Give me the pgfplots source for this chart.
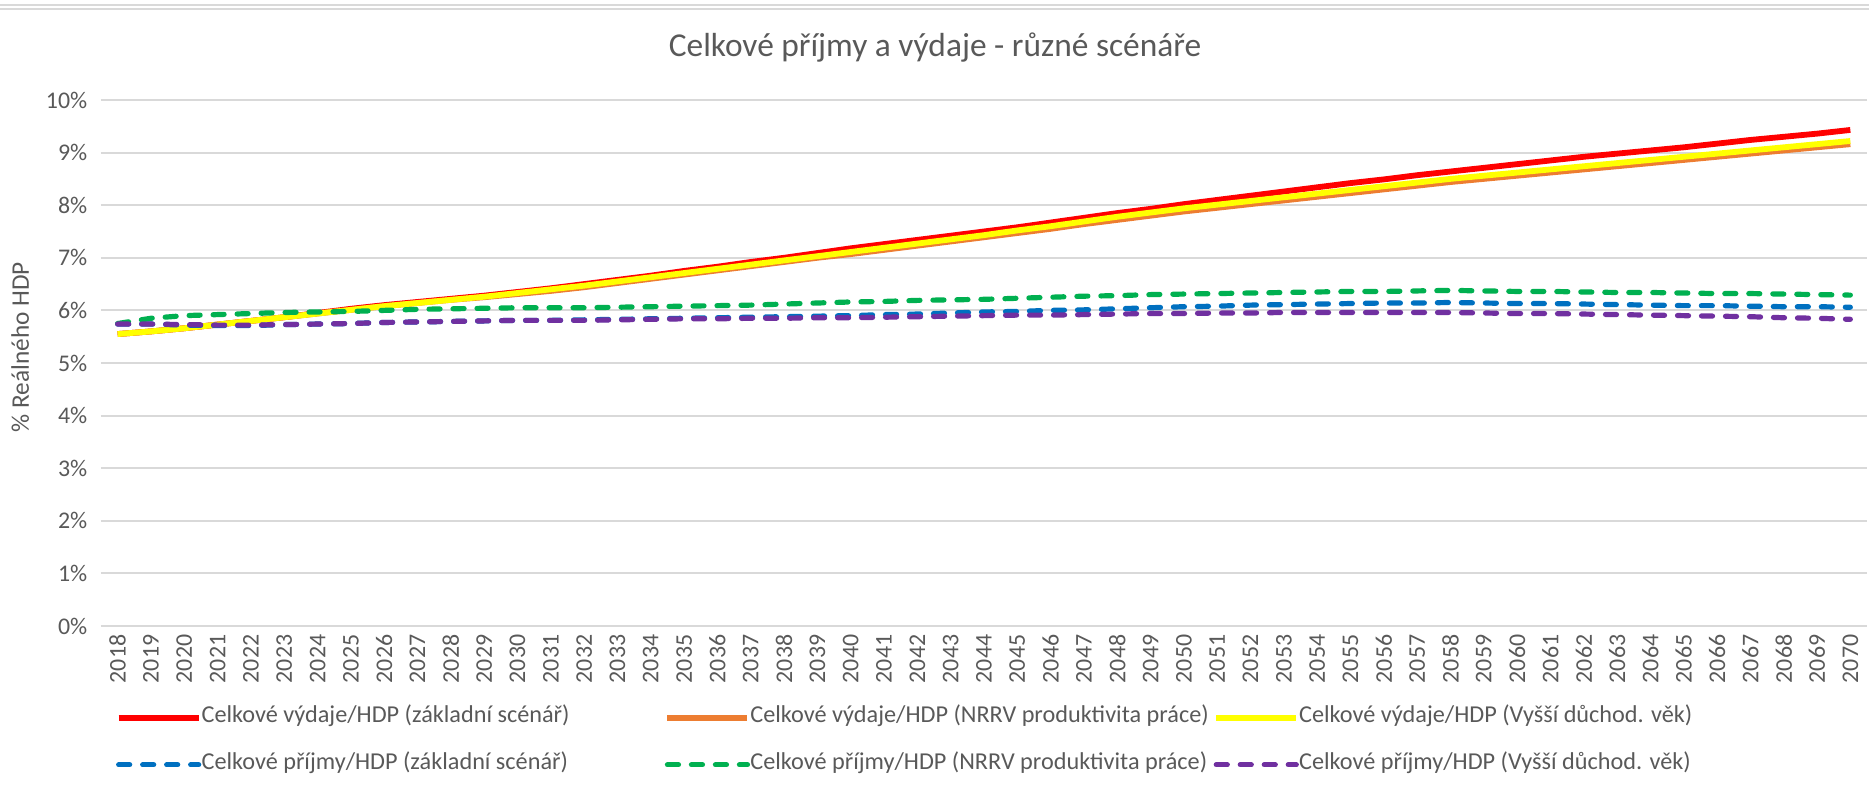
\documentclass[border=0pt]{standalone}
\usepackage{fontspec}
\setmainfont{Carlito}
\usepackage{pgfplots}
\usepackage{pgfplotstable}
\pgfplotsset{compat=1.18}

\definecolor{txt}{HTML}{595959}
\definecolor{gridc}{HTML}{D9D9D9}
\definecolor{cred}{HTML}{FF0000}
\definecolor{corange}{HTML}{ED7D31}
\definecolor{cyellow}{HTML}{FFFF00}
\definecolor{cblue}{HTML}{0070C0}
\definecolor{cgreen}{HTML}{00B050}
\definecolor{cpurple}{HTML}{7030A0}

\pgfplotstableread{
year r o y b g p
2018 5.55 5.55 5.55 5.74 5.75 5.74
2019 5.60 5.60 5.60 5.74 5.85 5.74
2020 5.66 5.66 5.66 5.72 5.90 5.73
2021 5.73 5.73 5.73 5.71 5.92 5.72
2022 5.80 5.80 5.80 5.71 5.94 5.72
2023 5.87 5.87 5.87 5.73 5.96 5.73
2024 5.95 5.94 5.94 5.74 5.97 5.74
2025 6.03 6.01 6.01 5.75 5.98 5.75
2026 6.10 6.08 6.08 5.77 6.00 5.77
2027 6.16 6.14 6.14 5.78 6.02 5.78
2028 6.22 6.20 6.20 5.79 6.03 5.79
2029 6.28 6.25 6.26 5.80 6.04 5.80
2030 6.35 6.31 6.33 5.81 6.05 5.81
2031 6.42 6.37 6.40 5.81 6.05 5.81
2032 6.50 6.44 6.47 5.82 6.05 5.81
2033 6.58 6.52 6.55 5.83 6.06 5.82
2034 6.66 6.60 6.63 5.84 6.07 5.83
2035 6.75 6.68 6.71 5.85 6.08 5.84
2036 6.83 6.76 6.79 5.86 6.09 5.84
2037 6.92 6.84 6.87 5.87 6.10 5.85
2038 7.00 6.92 6.95 5.88 6.12 5.85
2039 7.09 7.00 7.03 5.89 6.14 5.86
2040 7.18 7.07 7.11 5.90 6.16 5.86
2041 7.26 7.15 7.19 5.92 6.17 5.87
2042 7.34 7.23 7.27 5.93 6.19 5.88
2043 7.42 7.31 7.35 5.95 6.20 5.89
2044 7.50 7.39 7.43 5.97 6.21 5.90
2045 7.58 7.47 7.52 5.98 6.23 5.91
2046 7.67 7.55 7.60 6.00 6.25 5.91
2047 7.76 7.64 7.69 6.01 6.27 5.92
2048 7.85 7.72 7.78 6.03 6.28 5.93
2049 7.93 7.80 7.86 6.05 6.30 5.94
2050 8.02 7.88 7.94 6.07 6.31 5.94
2051 8.10 7.95 8.01 6.08 6.32 5.95
2052 8.18 8.02 8.08 6.10 6.33 5.95
2053 8.26 8.09 8.15 6.11 6.34 5.96
2054 8.34 8.16 8.22 6.12 6.35 5.96
2055 8.42 8.23 8.29 6.13 6.36 5.96
2056 8.49 8.30 8.36 6.14 6.36 5.96
2057 8.57 8.37 8.43 6.14 6.37 5.96
2058 8.64 8.44 8.50 6.15 6.38 5.96
2059 8.71 8.50 8.56 6.14 6.37 5.95
2060 8.78 8.56 8.62 6.13 6.36 5.94
2061 8.85 8.62 8.68 6.13 6.36 5.94
2062 8.92 8.68 8.74 6.12 6.35 5.93
2063 8.98 8.74 8.80 6.11 6.34 5.92
2064 9.04 8.80 8.86 6.10 6.34 5.91
2065 9.10 8.86 8.92 6.09 6.33 5.90
2066 9.17 8.92 8.98 6.09 6.32 5.89
2067 9.24 8.98 9.04 6.08 6.32 5.88
2068 9.30 9.04 9.10 6.07 6.31 5.86
2069 9.36 9.10 9.16 6.07 6.30 5.85
2070 9.43 9.16 9.22 6.06 6.29 5.83
}\scen

\newcommand{\legbox}[1]{\makebox[46.3mm][l]{#1}}

\begin{document}
\begin{tikzpicture}
\path[use as bounding box] (0,0) rectangle (186.9mm,79.2mm);
\draw[gridc, line width=0.25mm] (0,78.7mm) -- (186.9mm,78.7mm);
\draw[gridc, line width=0.25mm] (0,78.3mm) -- (186.9mm,78.3mm);
\node[txt, font=\fontsize{9.5}{11}\selectfont] at (93.5mm,74.4mm)
  {Celkové příjmy a výdaje - různé scénáře};
\begin{axis}[
    at={(10.1mm,16.6mm)}, anchor=south west,
    scale only axis,
    width=176.6mm, height=52.6mm,
    xmin=2017.5, xmax=2070.5,
    ymin=0, ymax=10,
    xtick=data,
    ytick={0,...,10},
    yticklabels={0\%,1\%,2\%,3\%,4\%,5\%,6\%,7\%,8\%,9\%,10\%},
    /pgf/number format/.cd, 1000 sep={}, assume math mode=true,
    /pgfplots/.cd,
    axis line style={draw=none},
    major tick length=0pt,
    ymajorgrids=true,
    grid style={gridc, line width=0.6pt},
    tick label style={txt, font=\fontsize{6.8}{8}\selectfont},
    yticklabel style={anchor=east, inner sep=0pt, xshift=-1.3mm},
    xticklabel style={rotate=90, anchor=east, inner sep=0pt},
    xticklabel shift=0.8mm,
    ylabel={\% Reálného HDP},
    ylabel style={txt, font=\fontsize{7.2}{9}\selectfont, at={(axis description cs:-0.0458,0.53)}, anchor=center},
    legend columns=3,
    legend cell align=left,
    legend image code/.code={\draw[#1] (0mm,0mm) -- (8mm,0mm);},
    legend style={at={(axis description cs:0.002,-0.139)}, anchor=north west,
      draw=none, fill=none, txt, font=\fontsize{6.9}{8}\selectfont,
      row sep=2.5mm, column sep=0pt,
      nodes={inner sep=0pt, inner xsep=0pt, text height=1.6mm, text depth=0.6mm}},
    every axis plot/.append style={line width=0.58mm, line join=round},
    dash/.style={line cap=round, dash pattern=on 1.1mm off 1.3mm, line width=0.52mm},
]
\addplot[cred] table[x=year, y=r] {\scen};
\addlegendentry{\legbox{Celkové výdaje/HDP (základní scénář)}}
\addplot[corange] table[x=year, y=o] {\scen};
\addlegendentry{\legbox{Celkové výdaje/HDP (NRRV produktivita práce)}}
\addplot[cyellow] table[x=year, y=y] {\scen};
\addlegendentry{Celkové výdaje/HDP (Vyšší důchod. věk)}
\addplot[cblue, dash] table[x=year, y=b] {\scen};
\addlegendentry{\legbox{Celkové příjmy/HDP (základní scénář)}}
\addplot[cgreen, dash] table[x=year, y=g] {\scen};
\addlegendentry{\legbox{Celkové příjmy/HDP (NRRV produktivita práce)}}
\addplot[cpurple, dash] table[x=year, y=p] {\scen};
\addlegendentry{Celkové příjmy/HDP (Vyšší důchod. věk)}
\end{axis}
\end{tikzpicture}
\end{document}
